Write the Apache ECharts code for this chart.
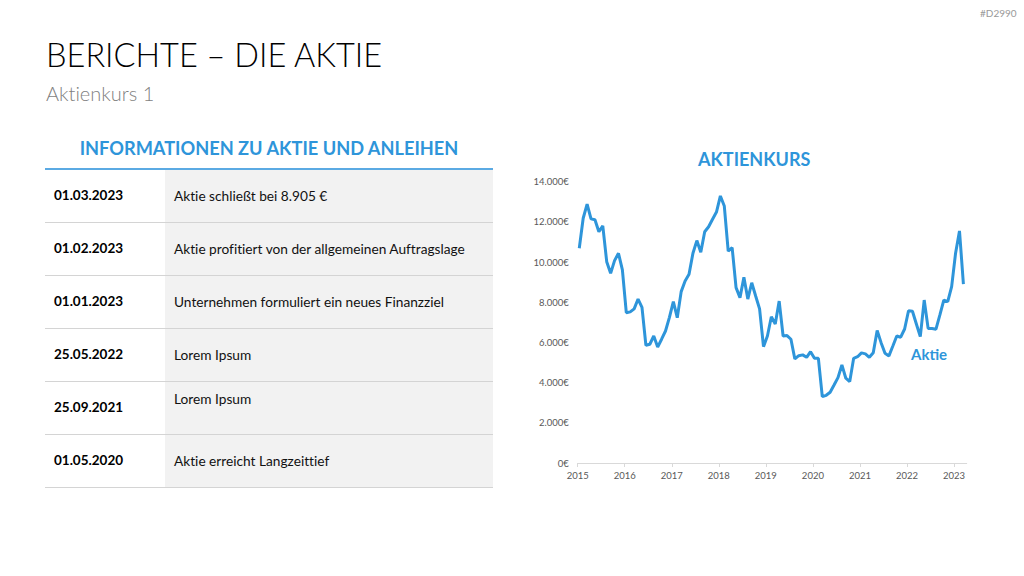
<!DOCTYPE html>
<html><head><meta charset="utf-8">
<script src="https://cdn.jsdelivr.net/npm/echarts@6/dist/echarts.min.js"></script>
<style>
html,body{margin:0;padding:0;background:#fff;}
#page{position:relative;width:1024px;height:576px;overflow:hidden;font-family:Lato,"Open Sans",sans-serif;font-variant-ligatures:none;}
#page *{font-variant-ligatures:none;}
.abs{position:absolute;white-space:nowrap;}
#title{left:46px;top:35px;font-size:32.5px;font-weight:300;color:#000;}
#sub{left:46px;top:81px;font-size:20px;font-weight:300;color:#7f7f7f;}
#code{left:980px;top:7px;font-size:10px;color:#999;}
#thead{left:45px;width:448px;top:137px;text-align:center;font-size:18.2px;font-weight:700;color:#2E95DA;}
#hline{left:45px;width:448px;top:168px;height:2px;background:#5BAAE3;}
.row{position:absolute;left:45px;width:448px;height:52px;border-bottom:1px solid #D4D4D4;}
.row .d{position:absolute;left:9px;font-size:13.5px;font-weight:700;color:#000;}
.row .g{position:absolute;left:120px;top:0;width:328px;height:52px;background:#F2F2F2;}
.row .t{position:absolute;left:129px;font-size:13.7px;color:#111;}
#chart{position:absolute;left:0;top:0;width:1024px;height:576px;}
</style></head>
<body><div id="page">
<div id="chart"></div>
<div class="abs" id="title">BERICHTE – DIE AKTIE</div>
<div class="abs" id="sub">Aktienkurs 1</div>
<div class="abs" id="code">#D2990</div>
<div class="abs" id="thead">INFORMATIONEN ZU AKTIE UND ANLEIHEN</div>
<div class="abs" id="hline"></div>
<div id="rows"></div>
</div>
<script>
// Table content
const tableDates = ['01.03.2023','01.02.2023','01.01.2023','25.05.2022','25.09.2021','01.05.2020'];
const tableTexts = ['Aktie schließt bei 8.905 €','Aktie profitiert von der allgemeinen Auftragslage','Unternehmen formuliert ein neues Finanzziel','Lorem Ipsum','Lorem Ipsum','Aktie erreicht Langzeittief'];
const textTopAligned = [false,false,false,false,true,false];

// Chart data: monthly closing prices from Jan 2015 to Mar 2023
const startYear = 2015;
const prices = [
 10690,12180,12880,12150,12110,11510,11800,10020,9440,10070,10440,9610,
 7480,7520,7670,8160,7750,5860,5910,6320,5770,6160,6570,7250,
 8030,7230,8530,9060,9390,10440,11070,10490,11510,11760,12130,12490,
 13290,12790,10550,10720,8730,8230,9240,8160,8970,8310,7670,5790,
 6320,7280,6920,8060,6320,6340,6160,5180,5340,5380,5260,5540,
 5210,5210,3300,3370,3520,3880,4250,4880,4220,4050,5210,5290,
 5480,5430,5260,5490,6590,5990,5460,5330,5820,6320,6260,6670,
 7580,7550,6920,6290,8110,6700,6690,6660,7370,8110,8030,8780,
 10440,11550,8905
];
const yearTicks = ['2015','2016','2017','2018','2019','2020','2021','2022','2023'];
const seriesName = 'Aktie';
const chartTitle = 'AKTIENKURS';

const rowsEl = document.getElementById('rows');
tableDates.forEach((d,i)=>{
  const r = document.createElement('div');
  r.className='row';
  r.style.top = (170 + i*53) + 'px';
  const top = 17;
  r.innerHTML = '<div class="g"></div><div class="d" style="top:'+top+'px">'+d+'</div>'+
    '<div class="t" style="top:'+(textTopAligned[i]?8:top)+'px">'+tableTexts[i]+'</div>';
  rowsEl.appendChild(r);
});

const blue = '#2E95DA';
const data = prices.map((v,i)=>[startYear + (i+0.4)/12, v]);
const chart = echarts.init(document.getElementById('chart'), null, {renderer:'svg'});
chart.setOption({
  animation:false,
  title:{text:chartTitle,left:693,top:145,textStyle:{color:blue,fontSize:18,fontWeight:'bold',fontFamily:'Lato'}},
  grid:{left:577.7,right:57.3,top:181.7,bottom:113,containLabel:false},
  xAxis:{type:'value',min:2015,max:2023.27,interval:1,
    axisLine:{lineStyle:{color:'#D9D9D9'}},
    axisTick:{show:true,length:4,lineStyle:{color:'#D9D9D9'}},
    splitLine:{show:false},
    axisLabel:{color:'#595959',fontSize:9.5,fontFamily:'Lato',margin:7,showMaxLabel:false,
      formatter:v=>{const k=Math.round(v)-startYear; return yearTicks[k]!==undefined && Math.abs(v-Math.round(v))<1e-6 ? yearTicks[k] : '';}}
  },
  yAxis:{type:'value',min:0,max:14000,interval:2000,
    axisLine:{show:false},axisTick:{show:false},splitLine:{show:false},
    axisLabel:{color:'#595959',fontSize:9.5,fontFamily:'Lato',margin:9,
      formatter:v=>v.toLocaleString('de-DE')+'€'}
  },
  graphic:[{type:'text',left:911,top:346,style:{text:seriesName,fill:blue,font:'bold 15px Lato'}}],
  series:[{name:seriesName,type:'line',data:data,showSymbol:false,symbol:'none',
    lineStyle:{color:blue,width:3},itemStyle:{color:blue}}]
});
</script>
</body></html>
